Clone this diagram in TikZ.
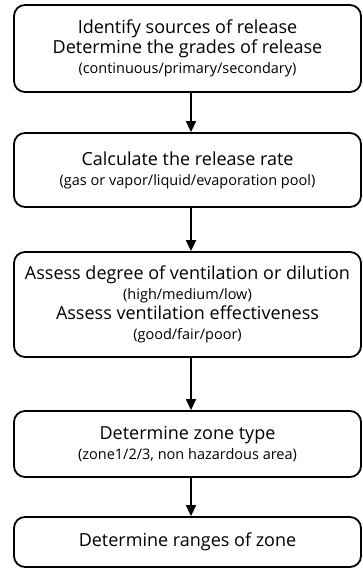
\documentclass[tikz,border=0pt]{standalone}
\usepackage{fontspec}
\setmainfont{Open Sans}
\usetikzlibrary{arrows.meta}

\tikzset{
	stepbox/.style={draw, line width=1.8pt, rounded corners=11pt, minimum width=347pt, align=center, inner sep=0pt, font=\fontsize{18}{20}\selectfont},
	flowarrow/.style={line width=1.6pt, -{Triangle[width=10pt,length=11pt]}},
}
\newcommand{\subtext}[1]{{\fontsize{14.5}{19}\selectfont #1}}

\begin{document}
\begin{tikzpicture}
			%%%%% START %%%%%
			
			\useasboundingbox (0pt, 0pt) rectangle (363pt, -570pt);
			
			\node[stepbox, minimum height=87pt] (sources) at (187.5pt, -48.5pt)
				{Identify sources of release\\Determine the grades of release\\\subtext{(continuous/primary/secondary)}};
			\node[stepbox, minimum height=74pt] (rate) at (187.5pt, -170pt)
				{Calculate the release rate\\\subtext{(gas or vapor/liquid/evaporation pool)}};
			\node[stepbox, minimum height=105pt] (ventilation) at (187.5pt, -304.5pt)
				{Assess degree of ventilation or dilution\\\subtext{(high/medium/low)}\\Assess ventilation effectiveness\\\subtext{(good/fair/poor)}};
			\node[stepbox, minimum height=66pt] (zonetype) at (187.5pt, -444pt)
				{Determine zone type\\\subtext{(zone1/2/3, non hazardous area)}};
			\node[stepbox, minimum height=50pt] (ranges) at (187.5pt, -542pt)
				{Determine ranges of zone};
			
			\draw[flowarrow] ([xshift=3.5pt]sources.south) -- ([xshift=3.5pt]rate.north);
			\draw[flowarrow] ([xshift=3.5pt]rate.south) -- ([xshift=3.5pt]ventilation.north);
			\draw[flowarrow] ([xshift=3.5pt]ventilation.south) -- ([xshift=3.5pt]zonetype.north);
			\draw[flowarrow] ([xshift=3.5pt]zonetype.south) -- ([xshift=3.5pt]ranges.north);
			
			%%%%% END %%%%%
\end{tikzpicture}
\end{document}
